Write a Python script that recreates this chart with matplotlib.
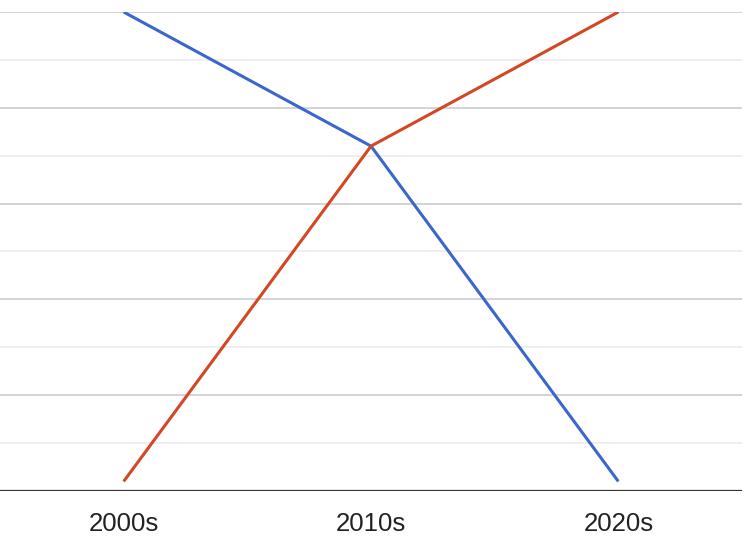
import matplotlib
matplotlib.use("Agg")
import matplotlib.pyplot as plt
import numpy as np

# 数据
decades = ["2000s", "2010s", "2020s"]
blue_values = [10.0, 7.2, 0.2]
red_values = [0.2, 7.2, 10.0]

plt.rcParams['font.family'] = ['Liberation Sans', 'DejaVu Sans']

fig = plt.figure(figsize=(7.54, 5.48), dpi=100)
# 绘图区域（像素换算）
ax = fig.add_axes([0 / 754, 1 - 491 / 548, 742 / 754, (491 - 12) / 548])

x = np.arange(len(decades))
ax.plot(x, blue_values, color='#3b66cc', lw=2.2, solid_capstyle='butt', zorder=3)
ax.plot(x, red_values, color='#d24824', lw=2.2, solid_capstyle='butt', zorder=3)

ax.set_xlim(-0.5, len(decades) - 0.5)
ax.set_ylim(0, 10)

# 网格线：主线与次线
for yv in np.arange(2, 11, 2):
    ax.axhline(yv, color='#cccccc', lw=1.2, zorder=1)
for yv in np.arange(1, 10, 2):
    ax.axhline(yv, color='#ebebeb', lw=1.2, zorder=1)
ax.axhline(0, color='#333333', lw=1.6, zorder=4)

ax.set_xticks(x)
ax.set_xticklabels(decades, fontsize=18.5, color='#222222')
ax.tick_params(axis='x', length=0, pad=15)
ax.set_yticks([])
for s in ax.spines.values():
    s.set_visible(False)

fig.savefig("out.png", dpi=100)
